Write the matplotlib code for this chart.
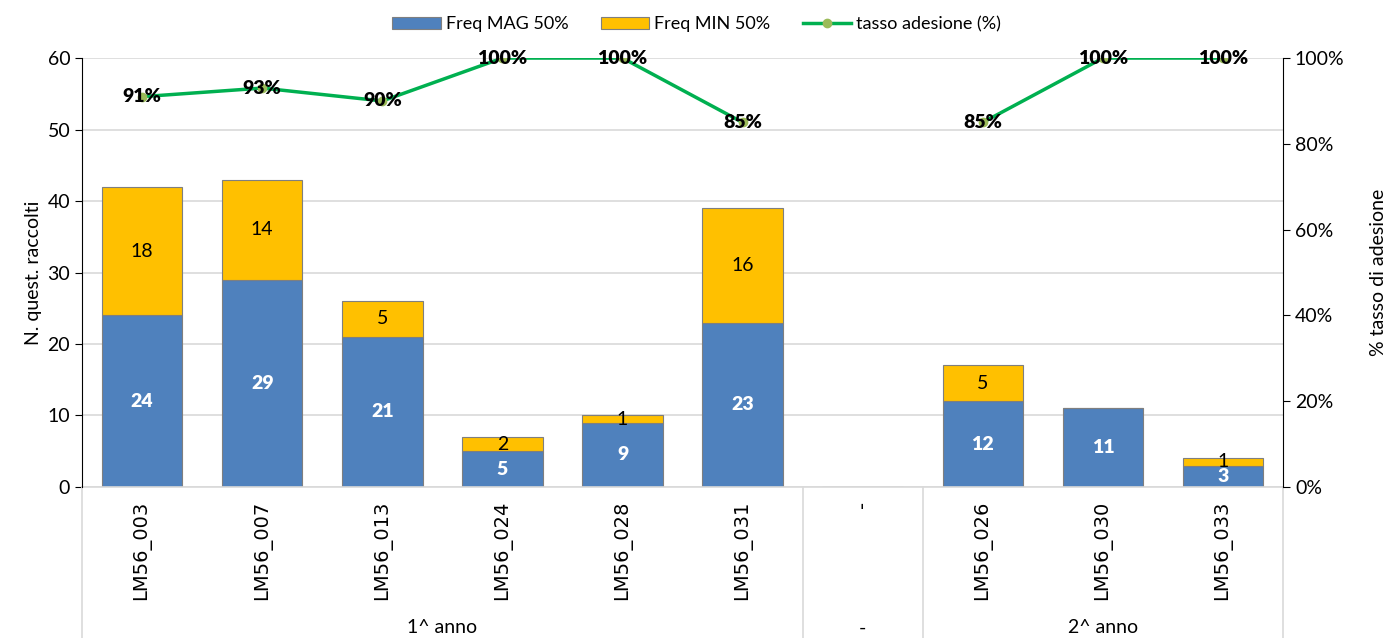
import numpy as np
import matplotlib
matplotlib.use("Agg")
import matplotlib.pyplot as plt
import matplotlib.transforms as mtransforms

plt.rcParams['font.family'] = ['Lato', 'DejaVu Sans']

# data
corsi = ["LM56_003", "LM56_007", "LM56_013", "LM56_024", "LM56_028", "LM56_031", "-",
         "LM56_026", "LM56_030", "LM56_033"]
freq_mag = [24, 29, 21, 5, 9, 23, 0, 12, 11, 3]
freq_min = [18, 14, 5, 2, 1, 16, 0, 5, 0, 1]
tasso = [91, 93, 90, 100, 100, 85, np.nan, 85, 100, 100]
anni = ["1^ anno", "-", "2^ anno"]
anni_span = [(0, 5), (6, 6), (7, 9)]

blue = "#4F81BD"
yellow = "#FFC000"
green = "#00B050"

fig = plt.figure(figsize=(13.93, 6.38), dpi=100)
ax = fig.add_axes([0.0589, 0.2367, 0.8622, 0.6723])
x = np.arange(len(corsi))

b1 = ax.bar(x, freq_mag, width=0.67, color=blue, edgecolor="#7F7F7F", linewidth=0.8,
            label="Freq MAG 50%", zorder=2)
b2 = ax.bar(x, freq_min, width=0.67, bottom=freq_mag, color=yellow, edgecolor="#7F7F7F",
            linewidth=0.8, label="Freq MIN 50%", zorder=2)

for i in range(len(corsi)):
    if freq_mag[i] > 0:
        ax.text(x[i], freq_mag[i] / 2, str(freq_mag[i]), ha="center", va="center",
                color="white", fontsize=14, fontweight="heavy", zorder=4)
    if freq_min[i] > 0:
        ax.text(x[i], freq_mag[i] + freq_min[i] / 2, str(freq_min[i]), ha="center",
                va="center", color="black", fontsize=14, zorder=4)

ax.set_xlim(-0.5, len(corsi) - 0.5)
ax.set_ylim(0, 60)
ax.set_yticks(range(0, 61, 10))
ax.tick_params(axis="y", labelsize=14, length=5, direction="out")
ax.grid(axis="y", color="#D9D9D9", linewidth=1.2, zorder=0)
ax.set_axisbelow(True)
ax.set_ylabel("N. quest. raccolti", fontsize=14)
ax.set_xticks(x)
ax.set_xticklabels(corsi, rotation=90, fontsize=14, family=['DejaVu Sans'])
ax.tick_params(axis="x", length=0, pad=10)
for s in ["top", "right", "bottom"]:
    ax.spines[s].set_visible(False)
ax.spines["left"].set_color("black")

ax2 = ax.twinx()
ax2.plot(x, tasso, color=green, linewidth=2.5, marker="o", markersize=6,
         markerfacecolor="#9BBB59", markeredgecolor="#9BBB59",
         label="tasso adesione (%)", zorder=3)
for i in range(len(corsi)):
    if not np.isnan(tasso[i]):
        ax2.text(x[i], tasso[i], f"{tasso[i]:.0f}%", ha="center", va="center",
                 fontsize=14, fontweight="heavy", zorder=5)
ax2.set_ylim(0, 100)
ax2.set_yticks(range(0, 101, 20))
ax2.set_yticklabels([f"{v}%" for v in range(0, 101, 20)])
ax2.tick_params(axis="y", labelsize=14, length=5, direction="out")
ax2.set_ylabel("% tasso di adesione", fontsize=14, labelpad=18)
for s in ["top", "left", "bottom"]:
    ax2.spines[s].set_visible(False)
ax2.spines["right"].set_color("black")

# group separators and labels below the axis
trans = mtransforms.blended_transform_factory(ax.transData, fig.transFigure)
for xs in [-0.5, 5.5, 6.5, 9.5]:
    ax.plot([xs, xs], [0.2367, 0.0], transform=trans, color="#D9D9D9",
            linewidth=1.2, clip_on=False)
ax.plot([-0.5, 9.5], [0.2367, 0.2367], transform=trans, color="#D9D9D9",
        linewidth=1.2, clip_on=False)
for name, (a, b) in zip(anni, anni_span):
    ax.text((a + b) / 2, 0.016, name, transform=trans, ha="center", va="center",
            fontsize=14)

h1, l1 = ax.get_legend_handles_labels()
h2, l2 = ax2.get_legend_handles_labels()
fig.legend(h1 + h2, l1 + l2, loc="upper center", bbox_to_anchor=(0.5, 1.0), ncol=3,
           frameon=False, fontsize=13, handlelength=2.7, columnspacing=1.8,
           handletextpad=0.25)

fig.savefig("out.png", dpi=100)
